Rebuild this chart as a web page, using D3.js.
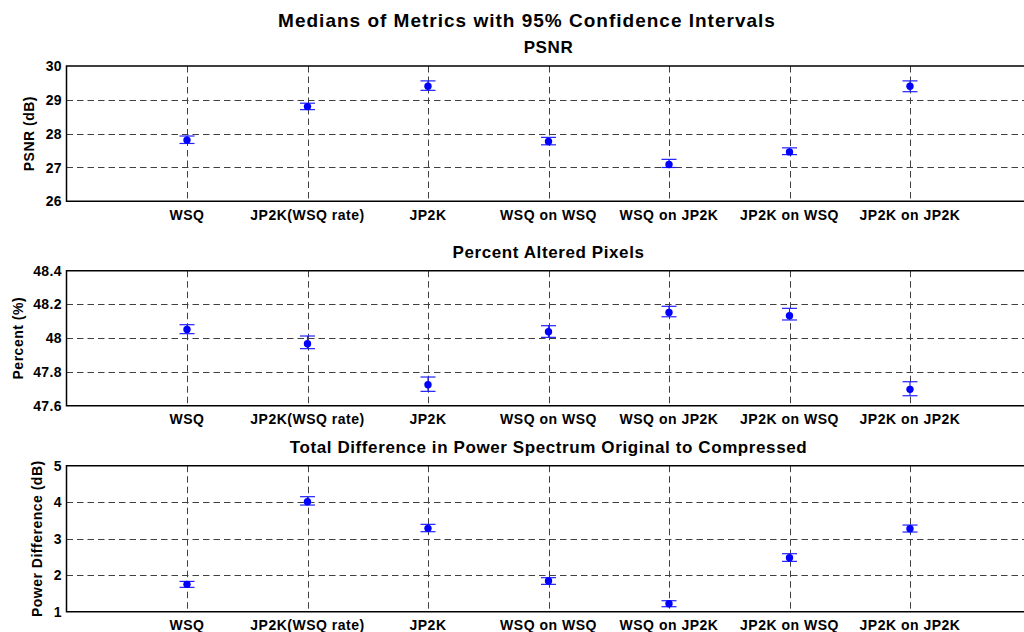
<!DOCTYPE html>
<html>
<head>
<meta charset="utf-8">
<script src="https://cdn.jsdelivr.net/npm/d3@7"></script>
<style>
  html, body { margin: 0; padding: 0; background: #fff; overflow: hidden; }
  svg { display: block; font-family: "Liberation Sans", Arial, Helvetica, sans-serif; font-weight: bold; }
</style>
</head>
<body>
<svg id="chart" width="1024" height="632"></svg>
<script>
"use strict";

// Categories shared by all three panels
const categories = ["WSQ", "JP2K(WSQ rate)", "JP2K", "WSQ on WSQ", "WSQ on JP2K", "JP2K on WSQ", "JP2K on JP2K"];

// PSNR (dB): median, lower and upper 95% CI
const psnrMedian = [27.81, 28.80, 29.40, 27.77, 27.09, 27.46, 29.40];
const psnrLow    = [27.71, 28.71, 29.28, 27.67, 27.00, 27.38, 29.24];
const psnrHigh   = [27.93, 28.90, 29.56, 27.89, 27.24, 27.58, 29.56];
const psnrTicks  = [26, 27, 28, 29, 30];

// Percent altered pixels
const pctMedian = [48.052, 47.967, 47.724, 48.038, 48.153, 48.133, 47.697];
const pctLow    = [48.027, 47.938, 47.685, 48.005, 48.127, 48.108, 47.659];
const pctHigh   = [48.080, 48.013, 47.770, 48.074, 48.189, 48.177, 47.742];
const pctTicks  = [47.6, 47.8, 48, 48.2, 48.4];

// Power spectrum difference (dB)
const powMedian = [1.749, 4.014, 3.283, 1.840, 1.219, 2.479, 3.274];
const powLow    = [1.667, 3.922, 3.192, 1.749, 1.137, 2.379, 3.183];
const powHigh   = [1.830, 4.151, 3.393, 1.932, 1.301, 2.589, 3.374];
const powTicks  = [1, 2, 3, 4, 5];

// layout of the three axes (ylabelX = baseline of the rotated label)
const panels = [
    { title: "PSNR", ylabel: "PSNR (dB)", med: psnrMedian, lo: psnrLow, hi: psnrHigh, ticks: psnrTicks, top: 66, bottom: 201.3, ylabelX: 34 },
    { title: "Percent Altered Pixels", ylabel: "Percent (%)", med: pctMedian, lo: pctLow, hi: pctHigh, ticks: pctTicks, top: 270.7, bottom: 405.7, ylabelX: 23 },
    { title: "Total Difference in Power Spectrum Original to Compressed", ylabel: "Power Difference (dB)", med: powMedian, lo: powLow, hi: powHigh, ticks: powTicks, top: 465.7, bottom: 611.7, ylabelX: 42 }
];

const svg = d3.select('#chart');

// x positions: categories at 1..7 in a 0..8 axis that runs past the right edge
const x = d3.scaleLinear()
    .domain([0, categories.length + 1])
    .range([66.5, 1030.5]);

const xMid = (x.range()[0] + x.range()[1]) / 2;

svg.append('text')
    .attr('x', 527)
    .attr('y', 27)
    .attr('text-anchor', 'middle')
    .style('font-size', '19px')
    .style('letter-spacing', '1px')
    .text('Medians of Metrics with 95% Confidence Intervals');

panels.forEach(p => {
    const y = d3.scaleLinear()
        .domain([p.ticks[0], p.ticks[p.ticks.length - 1]])
        .range([p.bottom, p.top]);

    const g = svg.append('g');

    // horizontal grid (interior ticks only)
    g.append('g')
        .selectAll('line')
        .data(p.ticks.slice(1, -1))
        .enter().append('line')
        .attr('x1', x(0))
        .attr('x2', x(categories.length + 1))
        .attr('y1', d => Math.round(y(d)) + 0.5)
        .attr('y2', d => Math.round(y(d)) + 0.5)
        .attr('stroke', '#404040')
        .attr('stroke-width', 1)
        .attr('stroke-dasharray', '6.5,4');

    // vertical grid at each category
    g.append('g')
        .selectAll('line')
        .data(categories)
        .enter().append('line')
        .attr('x1', (d, i) => Math.round(x(i + 1)) + 0.5)
        .attr('x2', (d, i) => Math.round(x(i + 1)) + 0.5)
        .attr('y1', p.top)
        .attr('y2', p.bottom)
        .attr('stroke', '#404040')
        .attr('stroke-width', 1)
        .attr('stroke-dasharray', '6.5,4');

    // axis box: top, left, bottom
    const xl = x(0), xr = x(categories.length + 1);
    g.append('path')
        .attr('d', 'M' + xr + ',' + p.top + 'H' + xl + 'V' + p.bottom + 'H' + xr)
        .attr('fill', 'none')
        .attr('stroke', '#000')
        .attr('stroke-width', 1.5);

    // y tick labels
    g.append('g')
        .selectAll('text')
        .data(p.ticks)
        .enter().append('text')
        .attr('x', 62)
        .attr('y', d => y(d))
        .attr('dy', '0.36em')
        .attr('text-anchor', 'end')
        .style('font-size', '14px')
        .style('letter-spacing', '0.4px')
        .text(d => d3.format('~g')(d));

    // x tick labels
    g.append('g')
        .selectAll('text')
        .data(categories)
        .enter().append('text')
        .attr('x', (d, i) => x(i + 1))
        .attr('y', p.bottom + 18.5)
        .attr('text-anchor', 'middle')
        .style('font-size', '14px')
        .style('letter-spacing', '0.5px')
        .text(d => d);

    // y label
    g.append('text')
        .attr('transform', 'translate(' + p.ylabelX + ',' + ((p.top + p.bottom) / 2) + ') rotate(-90)')
        .attr('text-anchor', 'middle')
        .style('font-size', '14px')
        .style('letter-spacing', '0.5px')
        .text(p.ylabel);

    // subplot title
    g.append('text')
        .attr('x', xMid)
        .attr('y', p.top - 13)
        .attr('text-anchor', 'middle')
        .style('font-size', '17px')
        .style('letter-spacing', '0.6px')
        .text(p.title);

    // error bars
    const bars = g.append('g')
        .selectAll('g')
        .data(p.med.map((m, i) => ({ i: i, m: m, lo: p.lo[i], hi: p.hi[i] })))
        .enter().append('g')
        .attr('stroke', '#2020ff')
        .attr('stroke-width', 1.2);

    bars.append('line')
        .attr('x1', d => x(d.i + 1))
        .attr('x2', d => x(d.i + 1))
        .attr('y1', d => y(d.lo))
        .attr('y2', d => y(d.hi));

    bars.append('line')
        .attr('x1', d => x(d.i + 1) - 7.5)
        .attr('x2', d => x(d.i + 1) + 7.5)
        .attr('y1', d => y(d.lo))
        .attr('y2', d => y(d.lo));

    bars.append('line')
        .attr('x1', d => x(d.i + 1) - 7.5)
        .attr('x2', d => x(d.i + 1) + 7.5)
        .attr('y1', d => y(d.hi))
        .attr('y2', d => y(d.hi));

    // median markers
    g.append('g')
        .selectAll('circle')
        .data(p.med)
        .enter().append('circle')
        .attr('cx', (d, i) => x(i + 1))
        .attr('cy', d => y(d))
        .attr('r', 3.7)
        .attr('fill', '#0000ff');
});
</script>
</body>
</html>
